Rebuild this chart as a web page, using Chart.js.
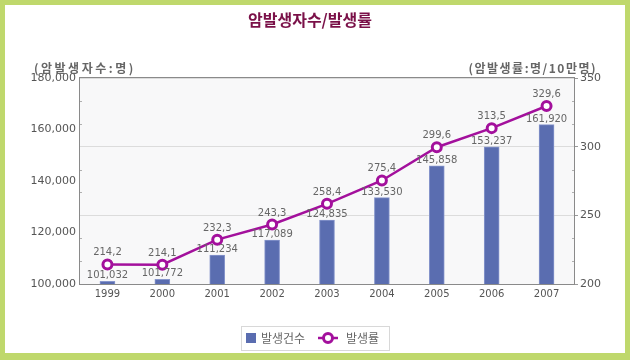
<!DOCTYPE html>
<html><head><meta charset="utf-8">
<script src="https://cdn.jsdelivr.net/npm/chart.js@4.4.1/dist/chart.umd.min.js"></script>
<style>html,body{margin:0;padding:0;background:#fff}#c{display:block}</style>
</head><body>
<div style="width:630px;height:360px"><canvas id="c" width="630" height="360"></canvas></div>
<script>
const years = ['1999','2000','2001','2002','2003','2004','2005','2006','2007'];
const cases = [101032,101772,111234,117089,124835,133530,145858,153237,161920];
const rates = [214.2,214.1,232.3,243.3,258.4,275.4,299.6,313.5,329.6];
const leftTicks = [100000,120000,140000,160000,180000];
const rightTicks = [200,250,300,350];
const title = '암발생자수/발생률';
const leftTitle = '(암발생자수:명)';
const rightTitle = '(암발생률:명/10만명)';
const legendBar = '발생건수';
const legendLine = '발생률';

const BAR = '#5a6db0', LINE = '#a3109c', TXT = '#666666';
const NUMFAM = '"DejaVu Sans", sans-serif';
const KFONT = '"Noto Sans CJK KR", "Noto Sans", sans-serif';

function fmtInt(v){return v.toLocaleString('en-US');}
function fmtRate(v){return v.toFixed(1).replace('.', ',');}

const deco = {
  id:'deco',
  beforeDraw(chart){
    const c = chart.ctx, a = chart.chartArea;
    c.save();
    c.fillStyle = '#bfd86c'; c.fillRect(0,0,630,360);
    c.fillStyle = '#ffffff'; c.fillRect(5,5,620,348);
    c.fillStyle = '#f8f8f9'; c.fillRect(a.left,a.top,a.right-a.left,a.bottom-a.top);
    c.restore();
  },
  afterDatasetsDraw(chart){
    const c = chart.ctx, a = chart.chartArea;
    const yR = chart.scales.yR;
    c.save();
    c.strokeStyle = '#8a8a8a'; c.lineWidth = 1;
    c.strokeRect(a.left-0.5, a.top-0.5, a.right-a.left+1, a.bottom-a.top+1);
    c.strokeStyle = '#b0b0b0';
    for(let k=1;k<9;k++){
      if(k%3===0) continue;
      const y = Math.round(yR.getPixelForValue(200 + k*50/3))+0.5;
      c.beginPath(); c.moveTo(a.left,y); c.lineTo(a.left+2,y); c.stroke();
      c.beginPath(); c.moveTo(a.right-2,y); c.lineTo(a.right,y); c.stroke();
    }
    c.font = '10px ' + NUMFAM; c.fillStyle = TXT; c.textAlign = 'center'; c.textBaseline = 'alphabetic';
    chart.getDatasetMeta(1).data.forEach((el,i)=>{
      c.fillText(fmtInt(cases[i]), el.x, el.y - 3);
    });
    chart.getDatasetMeta(0).data.forEach((el,i)=>{
      c.fillText(fmtRate(rates[i]), el.x, el.y - 9);
    });
    c.textBaseline = 'middle';
    c.font = 'bold 16px ' + KFONT; c.fillStyle = '#7a1048';
    c.fillText(title, 310, 20);
    c.font = 'bold 12px ' + KFONT; c.fillStyle = TXT;
    c.letterSpacing = '2.5px';
    c.textAlign = 'left'; c.fillText(leftTitle, 34, 68);
    c.letterSpacing = '1.5px';
    c.textAlign = 'right'; c.fillText(rightTitle, 597, 68);
    c.letterSpacing = '0px';
    c.strokeStyle = '#d8d8d8'; c.strokeRect(241.5,326.5,148,24);
    c.fillStyle = BAR; c.fillRect(246,333,10,10);
    c.font = '12px ' + KFONT; c.fillStyle = TXT; c.textAlign = 'left';
    c.fillText(legendBar, 261, 338.5);
    c.strokeStyle = LINE; c.lineWidth = 2.5;
    c.beginPath(); c.moveTo(318,338); c.lineTo(338,338); c.stroke();
    c.fillStyle = '#fff'; c.lineWidth = 3;
    c.beginPath(); c.arc(328,338,4.5,0,Math.PI*2); c.fill(); c.stroke();
    c.fillStyle = TXT; c.fillText(legendLine, 346, 338.5);
    c.restore();
  }
};

new Chart(document.getElementById('c'), {
  data:{
    labels: years,
    datasets:[
      {type:'line', label:legendLine, data:rates, yAxisID:'yR', order:0,
       borderColor:LINE, borderWidth:2.5, pointRadius:4.5, pointBorderWidth:3,
       pointBackgroundColor:'#fff', pointBorderColor:LINE, tension:0},
      {type:'bar', label:legendBar, data:cases, yAxisID:'yL', order:1,
       backgroundColor:BAR, borderColor:'#8796cc', borderWidth:{top:1,left:1,right:1,bottom:0},
       barThickness:15}
    ]
  },
  options:{
    responsive:false, animation:false, events:[],
    layout:{padding:{top:78,bottom:56,left:0,right:0}},
    plugins:{legend:{display:false}, title:{display:false}, tooltip:{enabled:false}},
    scales:{
      x:{grid:{display:false,drawTicks:false}, border:{display:false},
         ticks:{color:'#555',font:{family:NUMFAM,size:10},padding:4},
         afterFit(s){s.height=20;}},
      yL:{position:'left', min:100000, max:180000,
          afterBuildTicks(s){s.ticks = leftTicks.map(v=>({value:v}));},
          grid:{display:false,drawTicks:false}, border:{display:false},
          ticks:{color:'#555',font:{family:NUMFAM,size:11},padding:4,
                 callback:v=>fmtInt(v)},
          afterFit(s){s.width=80;}},
      yR:{position:'right', min:200, max:350,
          afterBuildTicks(s){s.ticks = rightTicks.map(v=>({value:v}));},
          grid:{color:'#dcdcdc',drawTicks:true,tickLength:4,tickColor:'#9a9a9a'}, border:{display:false},
          ticks:{color:'#555',font:{family:NUMFAM,size:11},padding:2},
          afterFit(s){s.width=56;}}
    }
  },
  plugins:[deco]
});
</script>
</body></html>
